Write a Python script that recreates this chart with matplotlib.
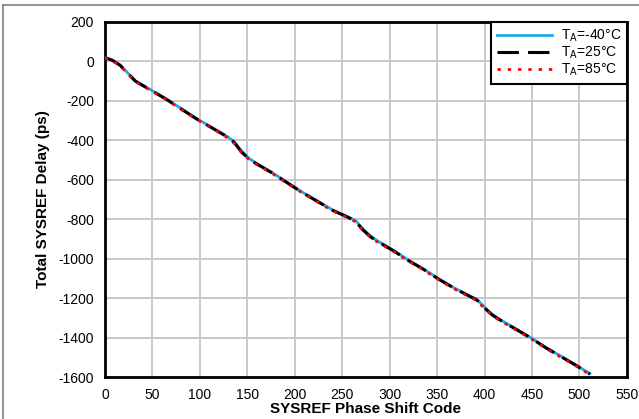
import matplotlib
matplotlib.use("Agg")
import matplotlib.pyplot as plt
from matplotlib.lines import Line2D

plt.rcParams['font.family'] = ['Liberation Sans', 'DejaVu Sans']
plt.rcParams['axes.unicode_minus'] = False

# phase shift code vs total SYSREF delay (ps)
codes = [0, 8, 16, 24, 32, 48, 64, 80, 96, 112, 128, 136, 144, 152, 160, 176,
         192, 208, 224, 240, 256, 264, 272, 280, 288, 304, 320, 336, 352, 368,
         384, 392, 400, 408, 416, 432, 448, 464, 480, 496, 511]
delay_m40 = [20, 6, -18, -58, -98, -143, -188, -238, -288, -333, -378, -405, -455, -492,
             -518, -563, -613, -663, -708, -753, -788, -806, -850, -886, -912, -958,
             -1008, -1053, -1103, -1148, -1188, -1206, -1246, -1282, -1308, -1353,
             -1398, -1448, -1493, -1538, -1583]
delay_25 = [20, 5, -20, -60, -100, -145, -190, -240, -290, -335, -380, -410, -460, -495,
            -520, -565, -615, -665, -710, -755, -790, -810, -855, -890, -915, -960,
            -1010, -1055, -1105, -1150, -1190, -1210, -1250, -1285, -1310, -1355,
            -1400, -1450, -1495, -1540, -1585]
delay_85 = [19, 3, -22, -63, -103, -147, -192, -243, -292, -337, -383, -414, -463, -498,
            -523, -567, -618, -667, -713, -758, -793, -813, -858, -893, -918, -963,
            -1013, -1058, -1108, -1153, -1193, -1213, -1253, -1288, -1313, -1358,
            -1403, -1453, -1498, -1543, -1588]

xticks = list(range(0, 551, 50))
yticks = list(range(-1600, 201, 200))

fig = plt.figure(figsize=(6.39, 4.19), dpi=100)
ax = fig.add_axes([0.1643, 0.1002, 0.8167, 0.8473])

ax.plot(codes, delay_m40, color='#1ea8e8', lw=2.0, ls='-', label='T$_\\mathregular{A}$=-40°C', zorder=3)
ax.plot(codes, delay_25, color='black', lw=2.2, ls=(0, (7, 3)), label='T$_\\mathregular{A}$=25°C', zorder=4)
ax.plot(codes, delay_85, color='red', lw=2.0, ls=(0, (1.2, 2.5)), label='T$_\\mathregular{A}$=85°C', zorder=5)

ax.set_xlim(0, 550)
ax.set_ylim(-1600, 200)
ax.set_xticks(xticks)
ax.set_yticks(yticks)
ax.tick_params(length=0, labelsize=10, pad=8)
ax.grid(True, color='#c8c8c8', lw=1.4)
ax.set_axisbelow(True)
for s in ax.spines.values():
    s.set_linewidth(2.0)
    s.set_color('black')

ax.set_xlabel('SYSREF Phase Shift Code', fontsize=11, fontweight='bold', labelpad=0)
ax.set_ylabel('Total SYSREF Delay (ps)', fontsize=11, fontweight='bold', labelpad=6)

leg = ax.legend(loc='upper right', fontsize=10, handlelength=4.0, borderaxespad=0,
                fancybox=False, framealpha=1, edgecolor='black', labelspacing=0.05,
                handletextpad=0.6, borderpad=0.4)
leg.get_frame().set_linewidth(1.5)

# outer frame (top and left edges)
fig.add_artist(Line2D([0.005, 1.0], [0.987, 0.987], color='#808080', lw=1.2))
fig.add_artist(Line2D([0.005, 0.005], [0.0, 0.987], color='#808080', lw=1.2))

fig.savefig('out.png', dpi=100)
